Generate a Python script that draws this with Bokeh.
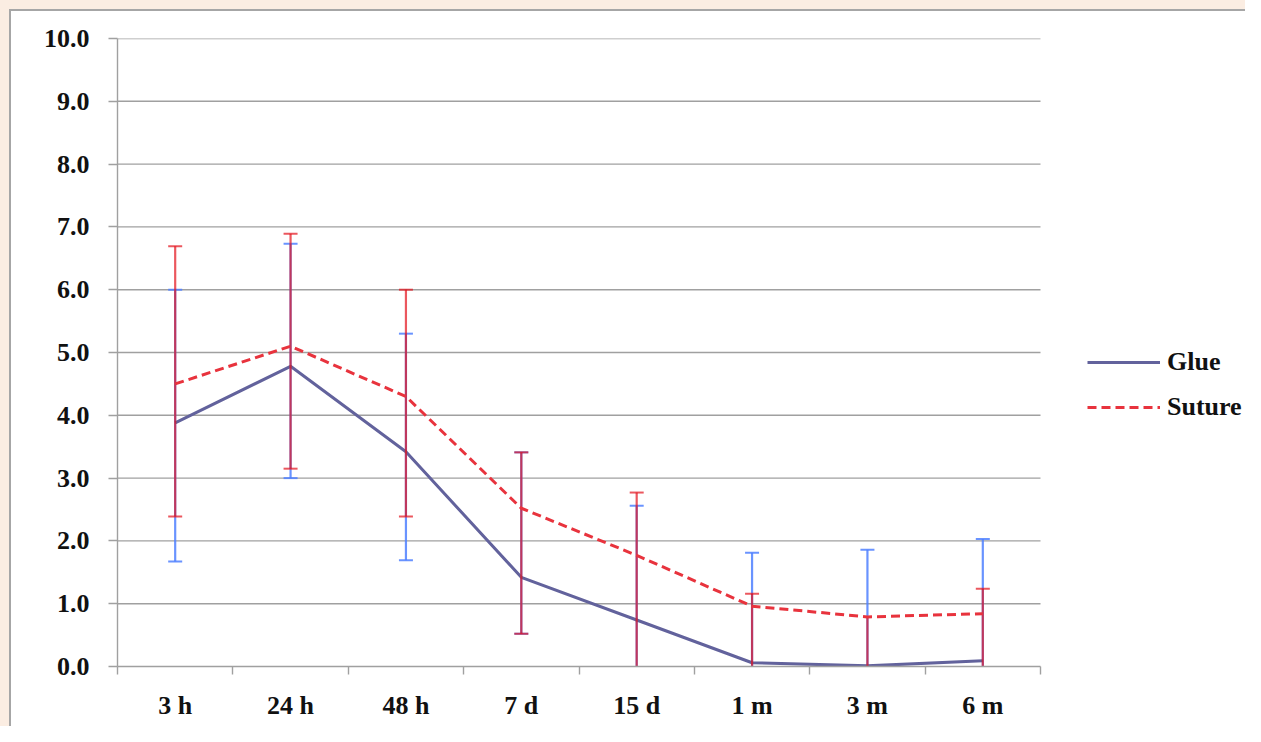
from bokeh.plotting import figure
from bokeh.models import FixedTicker, Legend, LegendItem, PrintfTickFormatter
from bokeh.embed import file_html
from bokeh.resources import INLINE

categories = ["3 h", "24 h", "48 h", "7 d", "15 d", "1 m", "3 m", "6 m"]
glue = [3.88, 4.78, 3.42, 1.42, 0.74, 0.06, 0.01, 0.09]
suture = [4.50, 5.10, 4.30, 2.52, 1.77, 0.96, 0.79, 0.84]
glue_upper = [6.00, 6.73, 5.30, 3.41, 2.56, 1.81, 1.86, 2.03]
glue_lower = [1.67, 3.00, 1.69, 0.52, 0.00, 0.00, 0.00, 0.00]
suture_upper = [6.69, 6.89, 6.00, 3.41, 2.77, 1.16, 0.79, 1.24]
suture_lower = [2.39, 3.15, 2.39, 0.52, 0.00, 0.00, 0.00, 0.00]
y_ticks = [0, 1, 2, 3, 4, 5, 6, 7, 8, 9, 10]

FONT = "Liberation Serif"
FSIZE = "26px"
GRID = "#A0A0A0"
GLUE_C = "#62629C"
SUT_C = "#E8333D"
GLUE_ERR = "#4F80FF"
SUT_ERR = "#E3101A"
PEACH = "#FBEDE2"

EDGE = 9  # peach strip on top/left
W, H = 1245, 726
LEFT, TOP = 117 - EDGE, 38 - EDGE
BOTTOM = H + EDGE - 666
PLOT_W = 923  # pixel width of the category area

n = len(categories)
xs = [i + 0.5 for i in range(n)]
bounds = list(range(n + 1))
x_end = n * (W - LEFT) / PLOT_W  # extra room on the right for the legend

p = figure(width=W, height=H, x_range=(0, x_end), y_range=(0, 10),
           output_backend="svg", toolbar_location=None,
           min_border_left=LEFT, min_border_top=TOP, min_border_right=0, min_border_bottom=BOTTOM)
p.styles = {"border-top": f"{EDGE}px solid {PEACH}", "border-left": f"{EDGE}px solid {PEACH}",
            "background-color": "white", "box-shadow": "inset 2px 2px 0 0 #A6A6A6"}
p.outline_line_color = None
p.background_fill_color = "white"
p.border_fill_alpha = 0

p.xgrid.visible = False
p.ygrid.visible = False
# horizontal gridlines limited to the category area
p.segment(x0=[0] * (len(y_ticks) - 1), x1=[n] * (len(y_ticks) - 1),
          y0=y_ticks[1:], y1=y_ticks[1:], line_color=GRID, line_width=1.4)

ya = p.yaxis[0]
ya.ticker = FixedTicker(ticks=y_ticks)
ya.formatter = PrintfTickFormatter(format="%.1f")
ya.major_label_text_font = FONT
ya.major_label_text_font_style = "bold"
ya.major_label_text_font_size = FSIZE
ya.major_label_text_color = "#111111"
ya.major_tick_out = 9
ya.major_tick_in = 0
ya.minor_tick_out = 0
ya.minor_tick_in = 0
ya.axis_line_color = GRID
ya.axis_line_width = 1.4
ya.major_tick_line_color = GRID
ya.major_tick_line_width = 1.4
ya.major_label_standoff = 19

xa = p.xaxis[0]
xa.bounds = (0, n)
xa.ticker = FixedTicker(ticks=xs, minor_ticks=bounds)
xa.major_label_overrides = {x: c for x, c in zip(xs, categories)}
xa.major_label_text_font = FONT
xa.major_label_text_font_style = "bold"
xa.major_label_text_font_size = FSIZE
xa.major_label_text_color = "#111111"
xa.major_tick_out = 0
xa.major_tick_in = 0
xa.minor_tick_out = 8
xa.minor_tick_in = 0
xa.minor_tick_line_color = GRID
xa.minor_tick_line_width = 1.4
xa.axis_line_color = GRID
xa.axis_line_width = 1.4
xa.major_label_standoff = 16


def error_bars(vals, upper, lower, color, alpha):
    p.segment(x0=xs, y0=[l if l > 0 else -1 for l in lower], x1=xs, y1=upper,
              line_color=color, line_alpha=alpha, line_width=2.2)
    ux = [x for x, u, v in zip(xs, upper, vals) if u > v]
    uy = [u for u, v in zip(upper, vals) if u > v]
    p.scatter(ux, uy, marker="dash", size=14, line_color=color, line_alpha=alpha, line_width=2)
    lx = [x for x, l in zip(xs, lower) if l > 0]
    ly = [l for l in lower if l > 0]
    p.scatter(lx, ly, marker="dash", size=14, line_color=color, line_alpha=alpha, line_width=2)


error_bars(glue, glue_upper, glue_lower, GLUE_ERR, 0.85)
glue_r = p.line(xs, glue, line_color=GLUE_C, line_width=3)
error_bars(suture, suture_upper, suture_lower, SUT_ERR, 0.7)
sut_r = p.line(xs, suture, line_color=SUT_C, line_width=3, line_dash="9 5")

legend = Legend(items=[LegendItem(label="Glue", renderers=[glue_r]),
                       LegendItem(label="Suture", renderers=[sut_r])],
                location=(PLOT_W + 47, 244), glyph_width=73, glyph_height=24,
                label_height=24, spacing=15, label_standoff=7, padding=0, margin=0,
                border_line_color=None, background_fill_alpha=0,
                label_text_font=FONT, label_text_font_style="bold",
                label_text_font_size=FSIZE, label_text_color="#111111")
p.add_layout(legend)

open("out.html", "w").write(file_html(p, INLINE))
